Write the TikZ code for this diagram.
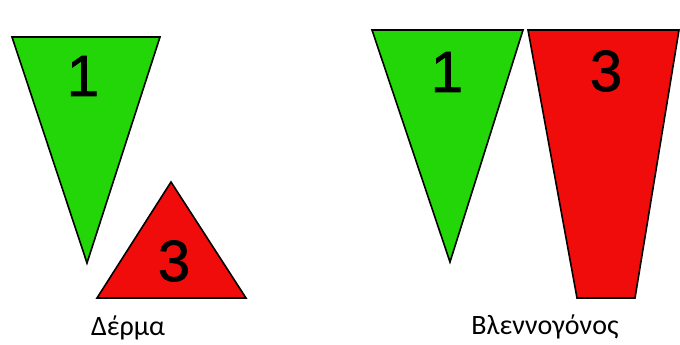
\documentclass[tikz,border=0pt]{standalone}
\usepackage{fontspec}
\setmainfont{Carlito}
\newfontfamily\digitfont[FakeBold=1.2]{Liberation Sans}
\usepackage{xcolor}
\definecolor{LeafGreen}{RGB}{34,214,8}
\definecolor{BrightRed}{RGB}{240,12,10}
\usepackage{tikz}

\tikzset{
  wedge/.style={draw=black,line width=1.6pt,line join=miter},
  digit/.style={font=\digitfont\fontsize{58}{58}\selectfont,inner sep=0pt},
  caption/.style={font=\fontsize{28}{28}\selectfont,inner sep=0pt}
}

\begin{document}
\begin{tikzpicture}[x=1pt,y=-1pt]
  \useasboundingbox (0,0) rectangle (680,345);
  % skin
  \filldraw[wedge,fill=LeafGreen] (12,37)--(160,37)--(87,263)--cycle;
  \filldraw[wedge,fill=BrightRed] (171,182)--(246,298)--(97,298)--cycle;
  \node[digit] (skinone) at (83,76) {1};
  \node[digit] (skinthree) at (174,261) {3};
  \node[caption] (skin) at (128,328) {Δέρμα};
  % mucosa
  \filldraw[wedge,fill=LeafGreen] (372,30)--(523,30)--(450,262)--cycle;
  \filldraw[wedge,fill=BrightRed] (528,30)--(679,30)--(635,298)--(577,298)--cycle;
  \node[digit] (mucone) at (447,72) {1};
  \node[digit] (mucthree) at (606,71) {3};
  \node[caption] (mucosa) at (545,327) {Βλεννογόνος};
\end{tikzpicture}
\end{document}
